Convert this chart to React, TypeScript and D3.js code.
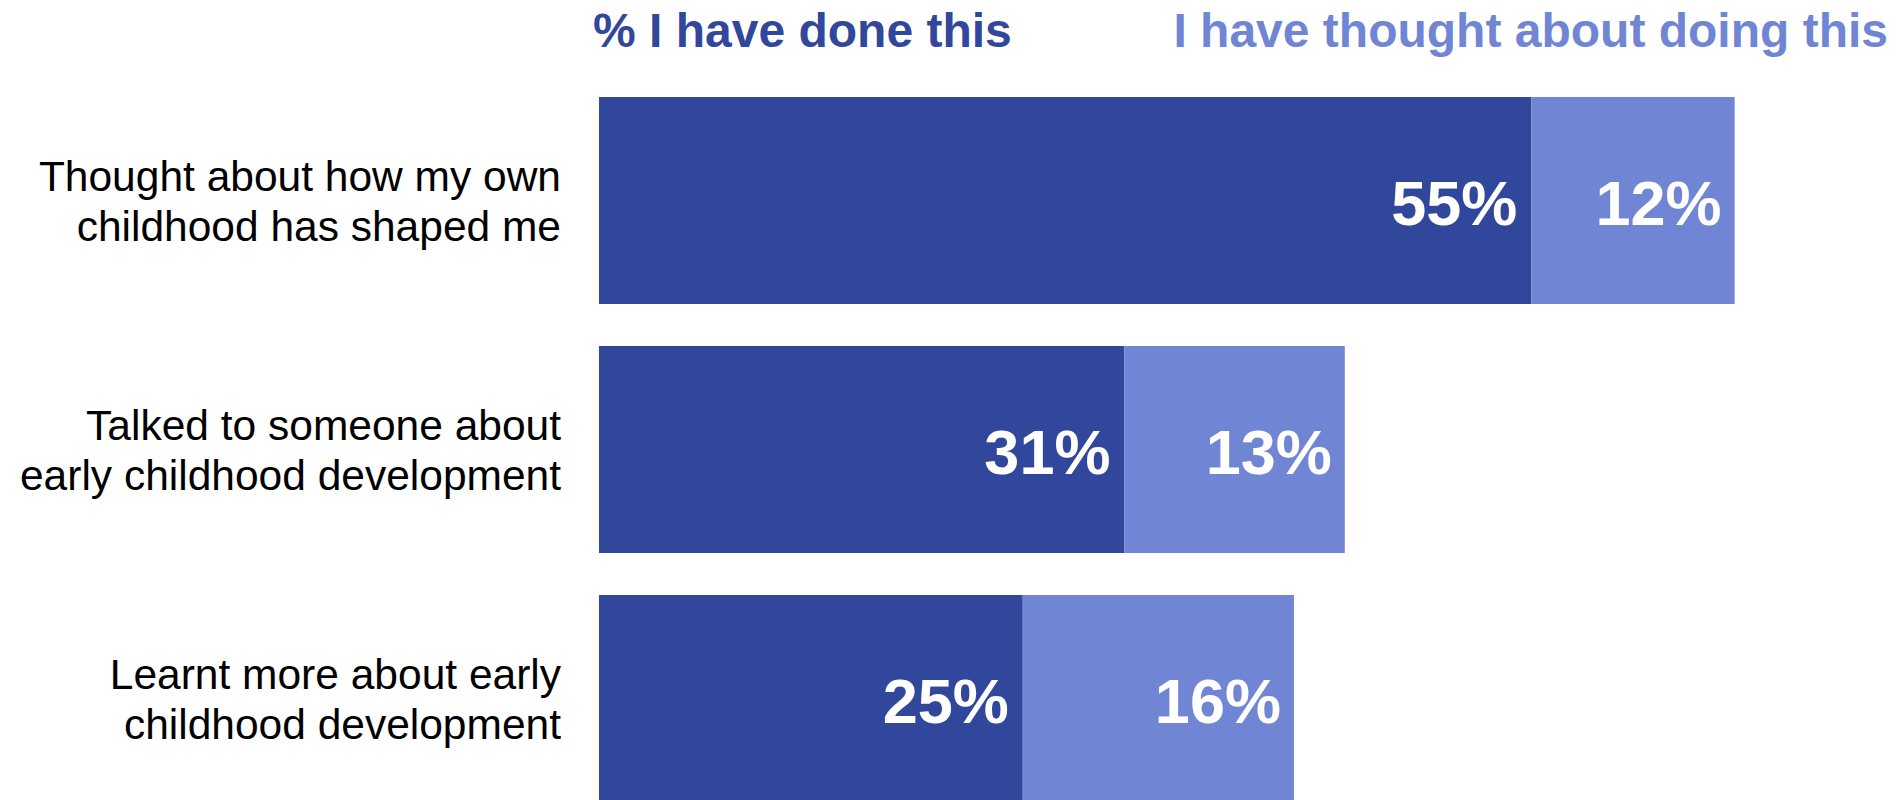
import React, { useEffect, useRef } from 'react';
import * as d3 from 'd3';

// categories and values (percent)
const categories = [
  ['Thought about how my own', 'childhood has shaped me'],
  ['Talked to someone about', 'early childhood development'],
  ['Learnt more about early', 'childhood development'],
];
const doneValues = [55, 31, 25];
const thoughtValues = [12, 13, 16];
const seriesNames = ['% I have done this', 'I have thought about doing this'];

const colors = {
  done: '#31479b',
  thought: '#7086d4',
};

const App = () => {
  const container = useRef(null);
  const width = 1901;
  const height = 800;

  useEffect(() => {
    const svg = d3
      .select(container.current)
      .selectAll('svg')
      .data([0])
      .join('svg')
      .attr('width', width)
      .attr('height', height)
      .style('position', 'absolute')
      .style('left', 0)
      .style('top', 0)
      .style('font-family', '"Liberation Sans", Arial, sans-serif');

    const keys = categories.map((c, i) => 'c' + i);

    const xScale = d3
      .scaleLinear()
      .domain([0, 100])
      .range([599, 599 + 1695]);

    const yScale = d3
      .scaleBand()
      .domain(keys)
      .range([97, 802])
      .paddingInner(42 / 249)
      .paddingOuter(0);

    const rows = keys.map((k, i) => ({
      key: k,
      lines: categories[i],
      done: doneValues[i],
      thought: thoughtValues[i],
    }));

    // done bars
    svg
      .selectAll('.bar-done')
      .data(rows)
      .join('rect')
      .attr('class', 'bar-done')
      .attr('x', xScale(0))
      .attr('y', d => yScale(d.key))
      .attr('width', d => xScale(d.done) - xScale(0))
      .attr('height', yScale.bandwidth())
      .style('fill', colors.done);

    // thought bars, stacked on done
    svg
      .selectAll('.bar-thought')
      .data(rows)
      .join('rect')
      .attr('class', 'bar-thought')
      .attr('x', d => xScale(d.done))
      .attr('y', d => yScale(d.key))
      .attr('width', d => xScale(d.done + d.thought) - xScale(d.done))
      .attr('height', yScale.bandwidth())
      .style('fill', colors.thought);

    const mid = d => yScale(d.key) + yScale.bandwidth() / 2;

    /* VALUE LABELS */
    svg
      .selectAll('.val-done')
      .data(rows)
      .join('text')
      .attr('class', 'val-done')
      .attr('x', d => xScale(d.done) - 14)
      .attr('y', d => mid(d) + 24)
      .attr('text-anchor', 'end')
      .style('font-size', '63px')
      .style('font-weight', 'bold')
      .style('fill', '#ffffff')
      .text(d => d.done + '%');

    svg
      .selectAll('.val-thought')
      .data(rows)
      .join('text')
      .attr('class', 'val-thought')
      .attr('x', d => xScale(d.done + d.thought) - 13)
      .attr('y', d => mid(d) + 24)
      .attr('text-anchor', 'end')
      .style('font-size', '63px')
      .style('font-weight', 'bold')
      .style('fill', '#ffffff')
      .text(d => d.thought + '%');

    /* CATEGORY LABELS */
    const labelg = svg
      .selectAll('.cat-label')
      .data(rows)
      .join('text')
      .attr('class', 'cat-label')
      .attr('text-anchor', 'end')
      .style('font-size', '42.5px')
      .style('fill', '#000000');

    labelg
      .selectAll('tspan')
      .data(d => d.lines.map((l, j) => ({ l, j, y: mid(d) })))
      .join('tspan')
      .attr('x', 561)
      .attr('y', t => t.y - 10 + t.j * 50)
      .text(t => t.l);

    /* LEGEND TITLES */
    svg
      .selectAll('.legend-done')
      .data([0])
      .join('text')
      .attr('class', 'legend-done')
      .attr('x', 593)
      .attr('y', 47)
      .style('font-size', '48px')
      .style('font-weight', 'bold')
      .style('fill', colors.done)
      .text(seriesNames[0]);

    svg
      .selectAll('.legend-thought')
      .data([0])
      .join('text')
      .attr('class', 'legend-thought')
      .attr('x', 1888)
      .attr('y', 47)
      .attr('text-anchor', 'end')
      .style('font-size', '48px')
      .style('font-weight', 'bold')
      .style('fill', colors.thought)
      .text(seriesNames[1]);
  }, []);

  return <div className="bar-container" ref={container}></div>;
};

export default App;
